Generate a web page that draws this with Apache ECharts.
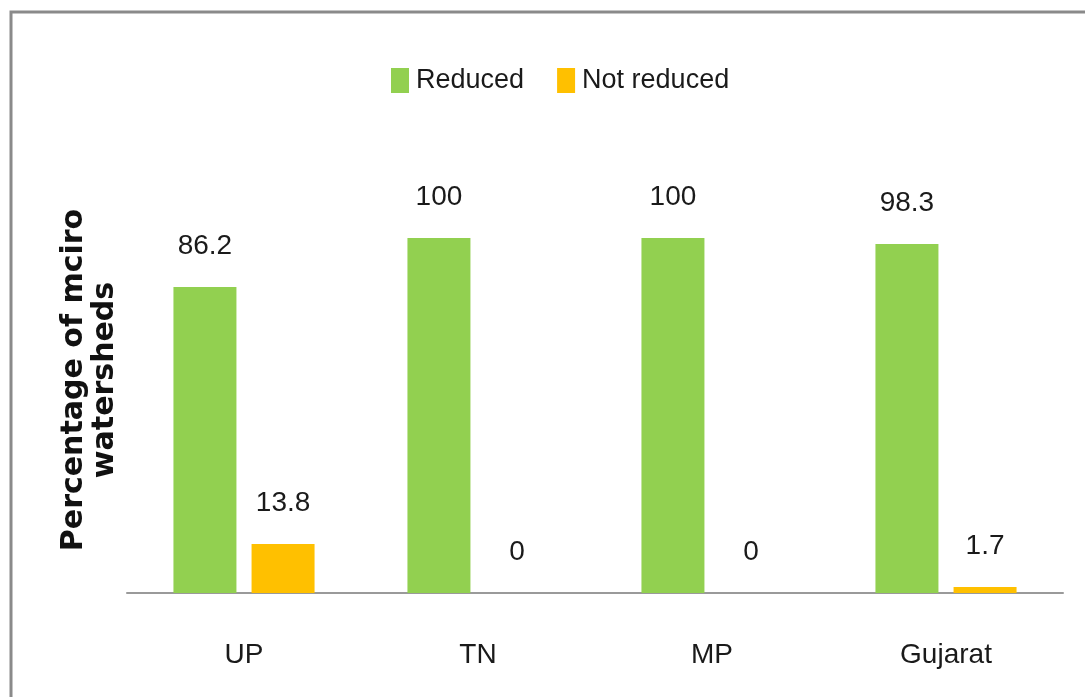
<!DOCTYPE html>
<html><head><meta charset="utf-8">
<script src="https://cdn.jsdelivr.net/npm/echarts@6/dist/echarts.min.js"></script>
<style>html,body{margin:0;padding:0;background:#fff}#c{width:1085px;height:697px}</style>
</head><body><div id="c"></div>
<script>
const categories = ['UP', 'TN', 'MP', 'Gujarat'];
const reduced = [86.2, 100, 100, 98.3];
const notReduced = [13.8, 0, 0, 1.7];
const seriesNames = ['Reduced', 'Not reduced'];
const yTitle = 'Percentage of mciro\nwatersheds';

const narrow = '"Liberation Sans", Arimo, sans-serif';
const chart = echarts.init(document.getElementById('c'));
chart.setOption({
  animation: false,
  backgroundColor: '#fff',
  graphic: [{
    type: 'rect', shape: {x: 11, y: 12, width: 1200, height: 800},
    style: {fill: 'none', stroke: '#8a8a8a', lineWidth: 3}, silent: true
  }],
  legend: {
    top: 62, left: 386,
    itemWidth: 18, itemHeight: 25, itemGap: 33,
    textStyle: {fontFamily: narrow, fontSize: 27, color: '#1a1a1a', padding: [0,0,0,2]},
    data: seriesNames.map(n => ({name: n, icon: 'rect'}))
  },
  grid: {left: 127, right: 22, top: 167, bottom: 104, containLabel: false},
  xAxis: {
    type: 'category', data: categories,
    axisLine: {lineStyle: {color: '#9a9a9a', width: 2}},
    axisTick: {show: false},
    axisLabel: {fontFamily: narrow, fontSize: 28, color: '#1a1a1a', margin: 48}
  },
  yAxis: {
    type: 'value', min: 0, max: 120,
    axisLine: {show: false}, axisTick: {show: false},
    axisLabel: {show: false}, splitLine: {show: false},
    name: yTitle, nameLocation: 'middle', nameGap: 6, nameRotate: 90,
    nameTextStyle: {fontFamily: '"DejaVu Sans", sans-serif', fontWeight: 'bold', fontSize: 30, color: '#111', lineHeight: 31, align: 'center'}
  },
  series: [
    {name: seriesNames[0], type: 'bar', data: reduced, barWidth: 63, barGap: '24%',
     itemStyle: {color: '#92D050'},
     label: {show: true, position: 'top', distance: 27, fontFamily: narrow, fontSize: 28, color: '#1a1a1a'}},
    {name: seriesNames[1], type: 'bar', data: notReduced, barWidth: 63,
     itemStyle: {color: '#FFC000'},
     label: {show: true, position: 'top', distance: 27, fontFamily: narrow, fontSize: 28, color: '#1a1a1a'}}
  ]
});
</script></body></html>
